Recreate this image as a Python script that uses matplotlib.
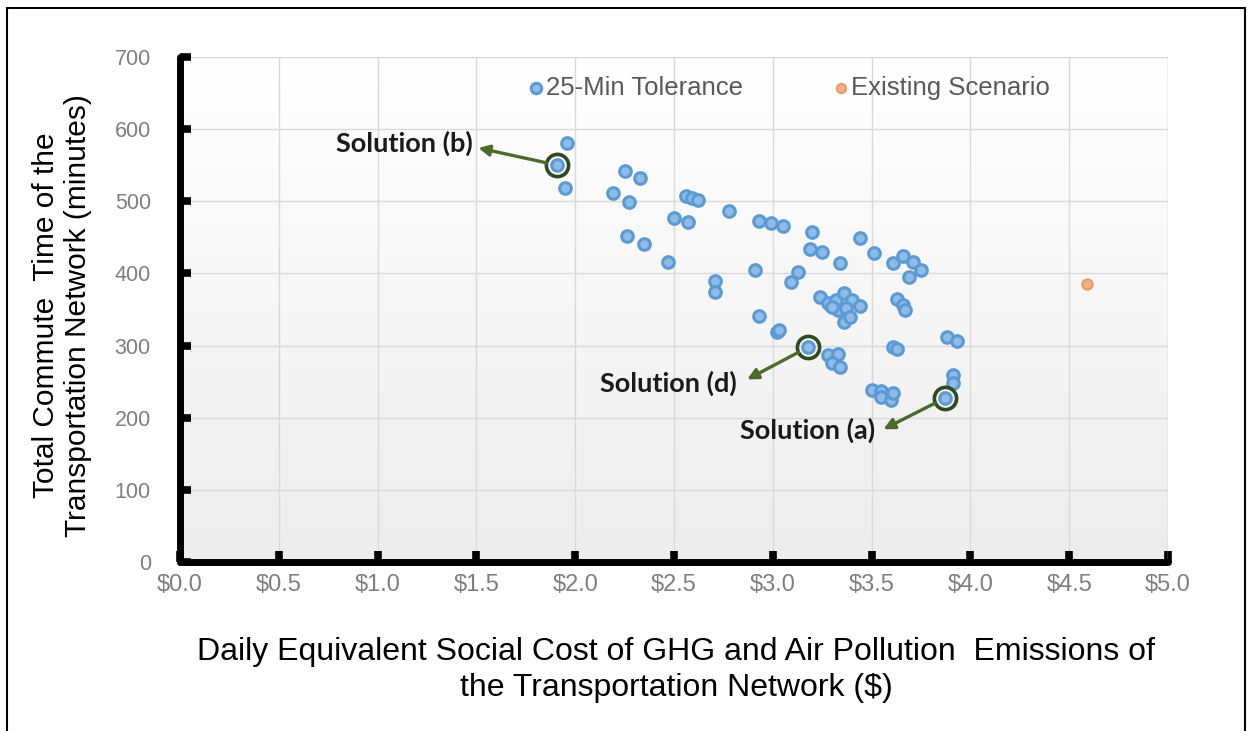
import numpy as np
import matplotlib
matplotlib.use("Agg")
import matplotlib.pyplot as plt
from matplotlib.patches import Rectangle
from matplotlib.ticker import FuncFormatter

# Pareto solutions under a 25-minute tolerance: daily social cost ($) vs total commute time (min)
cost = [1.96, 1.91, 1.95, 2.25, 2.33, 2.19, 2.27, 2.56, 2.59, 2.62,
        2.78, 2.50, 2.57, 2.26, 2.35, 2.47, 2.93, 2.99, 3.05, 3.20,
        3.19, 3.25, 3.34, 3.44, 3.51, 3.61, 3.66, 3.71, 3.75, 3.69,
        2.71, 2.71, 2.91, 3.13, 3.09, 3.24, 3.28, 3.32, 3.36, 3.40,
        3.44, 3.33, 3.37, 3.36, 3.39, 3.30, 3.63, 3.66, 3.67, 2.93,
        3.02, 3.03, 3.18, 3.28, 3.33, 3.30, 3.34, 3.61, 3.63, 3.88,
        3.93, 3.91, 3.91, 3.87, 3.50, 3.55, 3.55, 3.60, 3.61]
commute = [581, 550, 518, 542, 532, 512, 499, 507, 505, 502,
           487, 477, 471, 452, 441, 416, 473, 470, 466, 458,
           434, 430, 415, 449, 428, 415, 424, 416, 405, 395,
           390, 374, 405, 402, 388, 367, 359, 363, 373, 363,
           355, 349, 352, 333, 340, 354, 365, 356, 349, 341,
           319, 322, 298, 287, 288, 276, 270, 298, 295, 312,
           306, 259, 248, 227, 238, 237, 229, 225, 234]

# Baseline network
existing_cost = [4.59]
existing_commute = [385]

# Highlighted solutions: label, (cost, time) of the solution, label anchor (right edge)
solution_names = ["Solution (b)", "Solution (d)", "Solution (a)"]
solution_cost = [1.91, 3.18, 3.87]
solution_commute = [550, 298, 227]
label_cost = [1.48, 2.82, 3.52]
label_commute = [581, 248, 183]
arrow_tip_cost = [1.51, 2.87, 3.56]
arrow_tip_commute = [574, 253, 184]

x_ticks = [0.0, 0.5, 1.0, 1.5, 2.0, 2.5, 3.0, 3.5, 4.0, 4.5, 5.0]
y_ticks = [0, 100, 200, 300, 400, 500, 600, 700]

plt.rcParams["font.family"] = ["Liberation Sans", "DejaVu Sans"]

fig = plt.figure(figsize=(12.5, 7.31), dpi=100)
fig.patch.set_facecolor("white")
ax = fig.add_axes([0.144, 0.2312, 0.7904, 0.6908])

# soft vertical gradient behind the plot area: white at the top, light grey at the bottom
grad = np.linspace(0.0, 1.0, 256).reshape(-1, 1)
ax.imshow(grad, extent=[0, 1, 0, 1], transform=ax.transAxes, aspect="auto",
          cmap=matplotlib.colors.LinearSegmentedColormap.from_list("bg", ["#ffffff", "#ededed"]),
          vmin=0, vmax=1, zorder=0, interpolation="bicubic")
ax.set_facecolor("none")

ax.set_xlim(0, 5.0)
ax.set_ylim(0, 700)
ax.set_xticks(x_ticks)
ax.set_yticks(y_ticks)
ax.xaxis.set_major_formatter(FuncFormatter(lambda v, p: f"${v:.1f}"))
ax.grid(True, color="#d9d9d9", lw=1.0, zorder=1)
ax.set_axisbelow(True)

for side in ["top", "right"]:
    ax.spines[side].set_visible(False)
for side in ["left", "bottom"]:
    ax.spines[side].set_linewidth(5.0)
    ax.spines[side].set_color("black")
    ax.spines[side].set_capstyle("round")
    ax.spines[side].set_zorder(5)
ax.axvline(5.0, color="#d9d9d9", lw=1.0, zorder=1)

ax.tick_params(axis="both", direction="in", length=8, width=5.5, color="black",
               labelcolor="#7f7f7f")
ax.tick_params(axis="y", pad=21, labelsize=15.5)
ax.tick_params(axis="x", pad=9, labelsize=17)

ax.scatter(cost, commute, s=70, facecolor="#8fbbe6", edgecolor="#5b9bd5", linewidth=2.2,
           zorder=3, label="25-Min Tolerance")
ax.scatter(existing_cost, existing_commute, s=55, facecolor="#f4b183", edgecolor="#e89a6c",
           linewidth=1.5, zorder=3, label="Existing Scenario")

ring = "#2e4a1e"
arrow_col = "#4a6b2a"
for name, sx, sy, lx, ly, tx, ty in zip(solution_names, solution_cost, solution_commute,
                                        label_cost, label_commute,
                                        arrow_tip_cost, arrow_tip_commute):
    ax.plot([sx], [sy], marker="o", ms=16, mfc="none", mec=ring, mew=2.6, zorder=4)
    ax.annotate("", xy=(tx, ty), xytext=(sx, sy),
                arrowprops=dict(arrowstyle="-|>", color=arrow_col, lw=2.4,
                                mutation_scale=16, shrinkA=8, shrinkB=0),
                zorder=4)
    ax.text(lx, ly, name, ha="right", va="center", fontsize=19.5, fontweight="bold",
            family=["Lato", "DejaVu Sans"], color="#1a1a1a", zorder=4)

leg = ax.legend(ncol=2, loc="center", bbox_to_anchor=(0.617, 0.939), frameon=False,
                fontsize=18.5, handlelength=0.5, handletextpad=0.15, columnspacing=3.55,
                markerscale=0.9)
for t in leg.get_texts():
    t.set_color("#595959")

ax.set_ylabel("Total Commute  Time of the\nTransportation Network (minutes)",
              fontsize=21.5, color="black", linespacing=1.2, va="center")
ax.yaxis.set_label_coords(-0.1194, 0.488)
ax.set_xlabel("Daily Equivalent Social Cost of GHG and Air Pollution  Emissions of\n"
              "the Transportation Network ($)",
              fontsize=23, color="black", linespacing=1.25, va="center")
ax.xaxis.set_label_coords(0.502, -0.214)

# outer frame around the figure
fig.patches.append(Rectangle((7 / 1250, -0.05), 1238 / 1250, 1.05 - 8 / 731,
                             transform=fig.transFigure, fill=False, ec="black", lw=1.5))

fig.savefig("out.png", dpi=100)
